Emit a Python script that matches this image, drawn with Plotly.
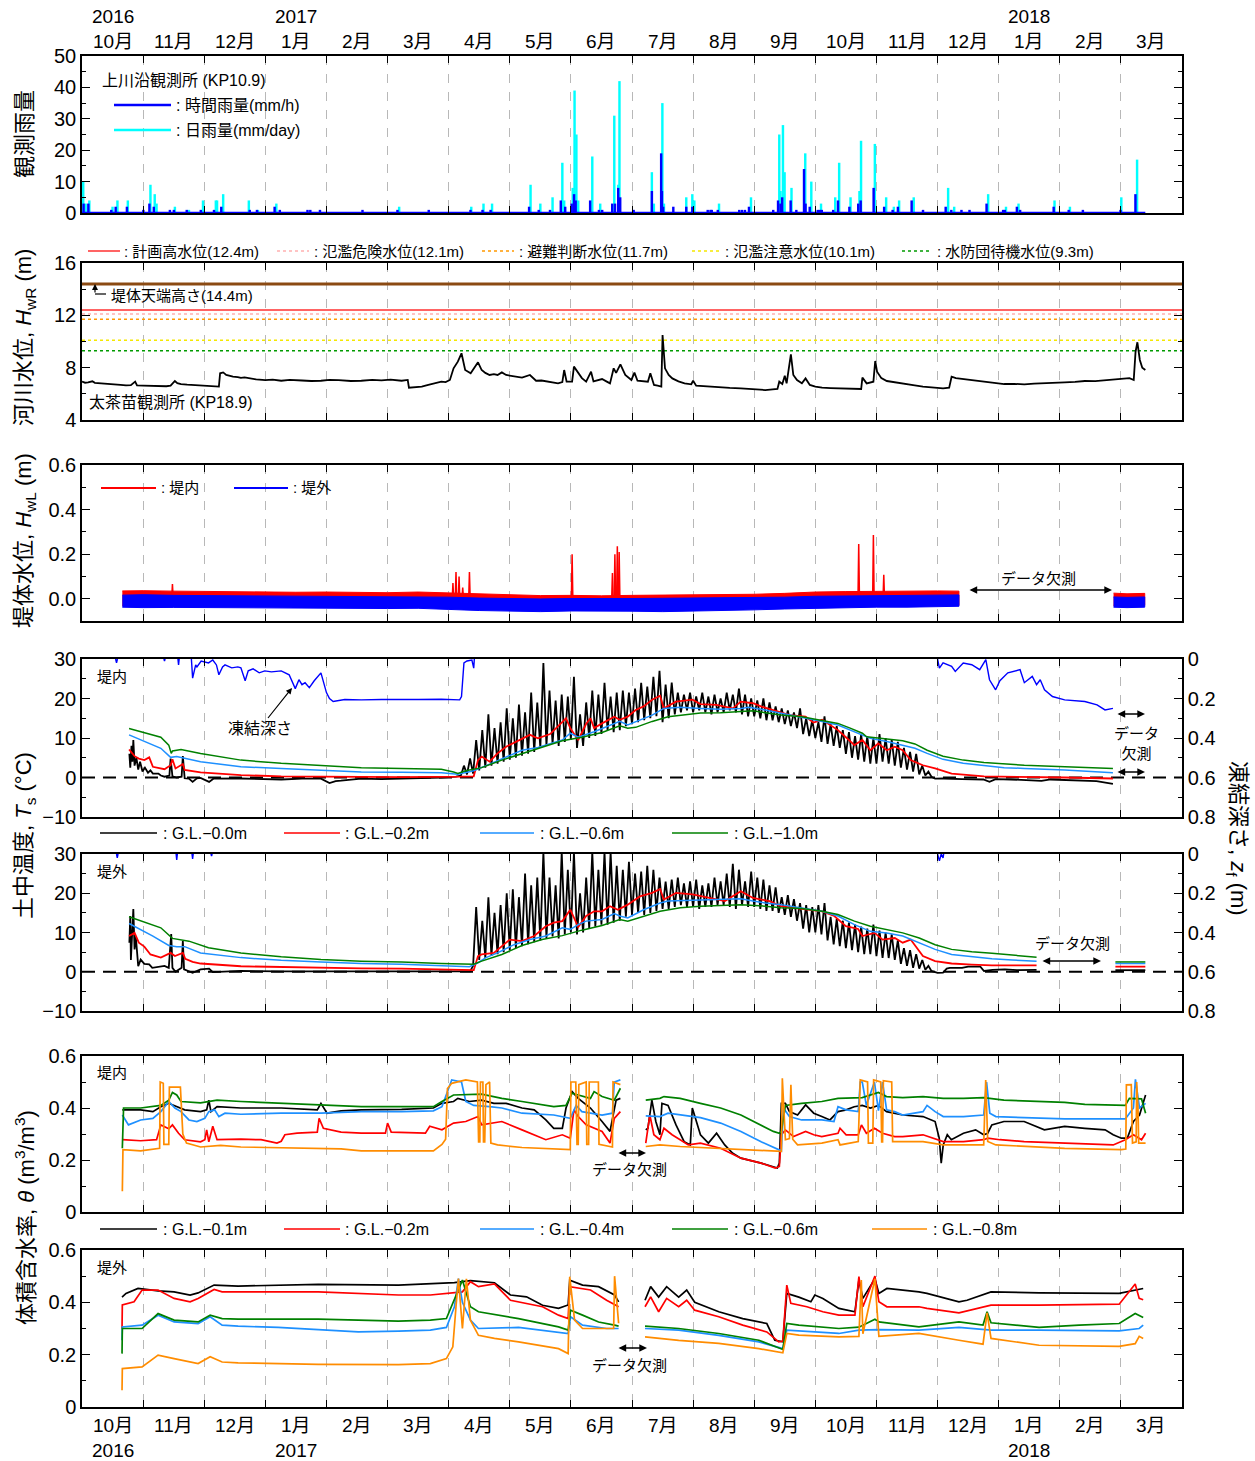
import plotly.graph_objects as go

# ------------------------------------------------------------------
# Time is expressed in months elapsed since 1 Oct 2016
# (each calendar month occupies one unit on the horizontal axis).
# ------------------------------------------------------------------
MONTHS = ["10月", "11月", "12月", "1月", "2月", "3月", "4月", "5月", "6月",
          "7月", "8月", "9月", "10月", "11月", "12月", "1月", "2月", "3月"]
YEARS = [(0, "2016"), (3, "2017"), (15, "2018")]
GAP = (None, None)

# ---------------- rainfall, 上川沿観測所 (KP10.9) -------------------
rain_daily = [(0.02, 10), (0.06, 3), (0.12, 4), (0.50, 2), (0.58, 4), (0.75, 4), (1.12, 9), (1.19, 6),
              (1.22, 3), (1.52, 2), (1.75, 1), (1.98, 4), (2.19, 4), (2.21, 4), (2.31, 6), (2.73, 4),
              (2.88, 1), (3.18, 3), (5.19, 2), (6.37, 2), (6.57, 3), (6.71, 3), (7.34, 9), (7.50, 3),
              (7.70, 5), (7.86, 16), (7.89, 4), (8.03, 8), (8.06, 39), (8.09, 25), (8.12, 4), (8.35, 18),
              (8.48, 3), (8.71, 31), (8.775, 9), (8.795, 42), (9.325, 13), (9.358, 3), (9.497, 35),
              (9.523, 3), (9.888, 5), (9.987, 6), (10.02, 4), (10.424, 3), (10.947, 5), (11.41, 25),
              (11.43, 7), (11.47, 28), (11.497, 13), (11.61, 8), (11.835, 19), (11.934, 10), (12.093, 3),
              (12.325, 5), (12.39, 16), (12.576, 5), (12.722, 7), (12.748, 23), (12.974, 22), (13.159, 5),
              (13.285, 2), (13.371, 4), (13.61, 5), (14.173, 8), (14.272, 2), (14.828, 6), (15.12, 2),
              (15.325, 3), (15.914, 4), (16.166, 2), (17.007, 5), (17.265, 17)]
rain_hourly = [(0.026, 3), (0.104, 3), (0.479, 1), (0.551, 2), (0.735, 2), (1.004, 1), (1.103, 3),
               (1.175, 2), (1.438, 1), (1.503, 1), (1.714, 1), (1.944, 1), (2.16, 1), (2.279, 2),
               (2.745, 1), (2.863, 1), (3.152, 2), (3.237, 1), (3.69, 1), (3.736, 1), (3.894, 1),
               (4.59, 1), (5.162, 1), (5.674, 1), (6.357, 1), (6.554, 1), (6.686, 1), (7.316, 2),
               (7.474, 1), (7.658, 1), (7.835, 4), (7.907, 2), (8.013, 3), (8.052, 6), (8.078, 4),
               (8.315, 4), (8.459, 1), (8.512, 1), (8.676, 3), (8.722, 3), (8.774, 8), (8.807, 5),
               (9.027, 1), (9.325, 7), (9.477, 19), (9.49, 7), (9.51, 2), (9.676, 2), (9.888, 2),
               (9.987, 2), (10.239, 1), (10.285, 1), (10.305, 1), (10.404, 1), (10.755, 1), (10.8, 1),
               (10.848, 1), (10.914, 2), (11.311, 1), (11.39, 4), (11.43, 3), (11.457, 5), (11.596, 4),
               (11.689, 1), (11.815, 14), (11.84, 3), (11.908, 2), (12.04, 1), (12.073, 1), (12.106, 1),
               (12.292, 1), (12.371, 4), (12.557, 2), (12.702, 3), (12.742, 4), (12.954, 8), (13.126, 2),
               (13.265, 1), (13.351, 2), (13.576, 4), (13.762, 1), (14.133, 2), (14.225, 1), (14.391, 1),
               (14.523, 1), (14.802, 3), (15.073, 1), (15.1, 1), (15.298, 2), (15.351, 1), (15.9, 2),
               (16.146, 1), (16.378, 1), (16.994, 1), (17.238, 6)]
rain_record = [(0.0, 0), (17.40, 0)]

# ---------------- river stage, 太茶苗観測所 (KP18.9) ----------------
river_level = [(0.00, 6.93), (0.05, 6.85), (0.10, 6.88), (0.17, 6.96), (0.21, 6.84), (0.25, 6.82),
               (0.33, 6.78), (0.40, 6.75), (0.50, 6.70), (0.63, 6.68), (0.72, 6.64), (0.80, 6.66),
               (0.87, 6.93), (0.90, 6.64), (1.00, 6.62), (1.10, 6.60), (1.20, 6.58), (1.29, 6.55),
               (1.38, 6.58), (1.45, 6.62), (1.52, 6.98), (1.56, 6.82), (1.62, 6.75), (1.72, 6.70),
               (1.80, 6.68), (1.88, 6.65), (1.94, 6.62), (2.02, 6.58), (2.10, 6.60), (2.18, 6.56),
               (2.24, 6.55), (2.26, 7.57), (2.31, 7.64), (2.36, 7.45), (2.40, 7.40), (2.47, 7.31),
               (2.55, 7.28), (2.60, 7.22), (2.66, 7.25), (2.73, 7.18), (2.85, 7.10), (3.00, 7.05),
               (3.12, 7.08), (3.26, 7.00), (3.40, 7.06), (3.60, 7.02), (3.75, 6.98), (3.91, 7.00),
               (4.05, 7.06), (4.20, 7.05), (4.40, 6.98), (4.57, 7.00), (4.75, 7.06), (4.90, 7.03),
               (5.05, 7.08), (5.23, 7.00), (5.33, 7.06), (5.35, 6.47), (5.45, 6.50), (5.56, 6.55),
               (5.65, 6.66), (5.75, 6.80), (5.88, 6.93), (5.95, 6.90), (6.02, 7.06), (6.08, 7.95),
               (6.15, 8.46), (6.21, 9.10), (6.27, 7.82), (6.36, 7.57), (6.41, 7.95), (6.48, 8.41),
               (6.54, 7.82), (6.60, 7.60), (6.67, 7.44), (6.74, 7.50), (6.80, 7.44), (6.87, 7.64),
               (6.94, 7.44), (7.05, 7.36), (7.20, 7.24), (7.33, 7.44), (7.43, 7.00), (7.52, 7.02),
               (7.60, 6.95), (7.70, 6.86), (7.79, 6.80), (7.86, 6.90), (7.89, 7.82), (7.93, 6.93),
               (8.02, 6.93), (8.05, 8.08), (8.12, 7.57), (8.18, 7.20), (8.25, 6.93), (8.33, 7.69),
               (8.37, 6.95), (8.44, 7.05), (8.51, 7.13), (8.58, 6.95), (8.64, 6.80), (8.70, 7.95),
               (8.74, 7.60), (8.81, 8.25), (8.89, 7.44), (8.99, 7.06), (9.04, 7.62), (9.09, 7.00),
               (9.18, 6.98), (9.26, 6.93), (9.30, 7.57), (9.36, 6.68), (9.42, 6.62), (9.48, 6.55),
               (9.50, 10.5), (9.54, 7.95), (9.60, 7.45), (9.66, 7.18), (9.76, 6.95), (9.86, 6.80),
               (9.97, 6.73), (10.00, 7.00), (10.05, 6.62), (10.20, 6.56), (10.35, 6.50), (10.45, 6.47),
               (10.60, 6.45), (10.78, 6.42), (10.95, 6.38), (11.18, 6.29), (11.30, 6.34), (11.38, 6.37),
               (11.41, 6.93), (11.46, 6.75), (11.50, 7.39), (11.53, 6.80), (11.60, 9.02), (11.64, 7.44),
               (11.70, 7.05), (11.78, 6.80), (11.84, 7.18), (11.91, 6.68), (12.00, 6.55), (12.11, 6.47),
               (12.25, 6.44), (12.44, 6.42), (12.60, 6.38), (12.75, 6.37), (12.77, 7.24), (12.84, 6.80),
               (12.95, 6.93), (12.98, 8.51), (13.01, 7.69), (13.08, 7.20), (13.17, 6.98), (13.30, 6.90),
               (13.43, 6.80), (13.60, 6.66), (13.76, 6.55), (13.92, 6.48), (14.09, 6.42), (14.19, 6.47),
               (14.23, 7.31), (14.30, 7.20), (14.42, 7.13), (14.58, 7.02), (14.76, 6.93), (14.92, 6.84),
               (15.09, 6.75), (15.25, 6.76), (15.42, 6.73), (15.58, 6.78), (15.75, 6.80), (15.92, 6.82),
               (16.08, 6.88), (16.25, 6.92), (16.41, 6.98), (16.58, 6.97), (16.74, 7.03), (16.90, 7.08),
               (17.07, 7.13), (17.14, 7.20), (17.21, 7.06), (17.24, 9.22), (17.27, 9.94), (17.31, 8.59),
               (17.35, 8.00), (17.40, 7.82)]
crest_height = 14.4
stage_refs = [("計画高水位", 12.4), ("氾濫危険水位", 12.1), ("避難判断水位", 11.7),
              ("氾濫注意水位", 10.1), ("水防団待機水位", 9.3)]

# ---------------- embankment water level (envelopes of the record) --------
wl_t = [0.66, 1.0, 1.5, 2.0, 2.5, 3.0, 3.5, 4.0, 4.5, 5.0, 5.5, 6.0, 6.5, 7.0, 7.5, 8.0, 8.5,
        9.0, 9.5, 10.0, 10.5, 11.0, 11.5, 12.0, 12.5, 13.0, 13.5, 14.0, 14.35]
wl_in_hi = [0.035, 0.036, 0.034, 0.032, 0.030, 0.031, 0.029, 0.030, 0.028, 0.027, 0.030, 0.026, 0.020,
            0.016, 0.014, 0.015, 0.013, 0.015, 0.016, 0.018, 0.016, 0.020, 0.024, 0.030, 0.032, 0.034,
            0.033, 0.035, 0.034]
wl_in_lo = [-0.030, -0.032, -0.030, -0.031, -0.033, -0.032, -0.034, -0.033, -0.035, -0.036, -0.034,
            -0.040, -0.045, -0.048, -0.050, -0.048, -0.047, -0.049, -0.050, -0.048, -0.046, -0.044,
            -0.040, -0.036, -0.034, -0.033, -0.032, -0.031, -0.030]
wl_out_hi = [0.016, 0.018, 0.015, 0.014, 0.013, 0.014, 0.012, 0.013, 0.011, 0.010, 0.009, 0.007, 0.003,
             0.001, -0.001, 0.001, 0.000, 0.001, 0.002, 0.003, 0.004, 0.005, 0.007, 0.011, 0.013, 0.015,
             0.016, 0.017, 0.017]
wl_out_lo = [-0.038, -0.040, -0.039, -0.038, -0.040, -0.041, -0.040, -0.042, -0.043, -0.044, -0.043,
             -0.048, -0.053, -0.056, -0.058, -0.055, -0.054, -0.056, -0.058, -0.055, -0.053, -0.050,
             -0.046, -0.042, -0.040, -0.038, -0.038, -0.036, -0.034]
wl2_t = [16.88, 17.1, 17.39]
wl2_in_hi = [0.025, 0.022, 0.024]
wl2_in_lo = [-0.030, -0.032, -0.030]
wl2_out_hi = [0.008, 0.006, 0.008]
wl2_out_lo = [-0.038, -0.040, -0.038]
wl_in_peaks = [(1.48, 0.066), (6.07, 0.07), (6.12, 0.12), (6.17, 0.10), (6.23, 0.05), (6.34, 0.12),
               (8.02, 0.20), (8.68, 0.115), (8.72, 0.20), (8.76, 0.235), (8.79, 0.21), (12.71, 0.246),
               (12.95, 0.286), (13.12, 0.107)]

# ---------------- soil temperature, 堤内 ----------------
ts_in_000 = [(0.775, 6.0), (0.79, 2.5), (0.81, 8.0), (0.825, 4.0), (0.84, 9.5), (0.86, 3.0), (0.89, 5.0),
             (0.92, 2.0), (0.95, 4.0), (0.99, 1.5), (1.03, 2.5), (1.08, 1.2), (1.12, 1.8), (1.16, 1.0),
             (1.25, 1.0), (1.29, 0.5), (1.35, 0.2), (1.43, 0.5), (1.45, 4.8), (1.48, 0.3), (1.55, 0.0),
             (1.63, 0.2), (1.65, 5.4), (1.68, -0.2), (1.75, -0.3), (1.81, -1.1), (1.88, -0.2), (1.94, -0.1),
             (2.08, -1.1), (2.15, -0.3), (2.60, -0.25), (3.00, -0.4), (3.26, -0.5), (3.60, -0.3),
             (3.91, -0.3), (4.05, -1.4), (4.15, -0.9), (4.24, -0.8), (4.57, -0.3), (4.90, -0.4),
             (5.23, -0.3), (5.60, -0.2), (5.88, 0.0), (6.12, 0.2),
             (6.20, 0.5), (6.25, 3.0), (6.30, 0.8), (6.35, 4.8), (6.40, 1.0), (6.45, 9.5), (6.50, 1.8),
             (6.55, 12.0), (6.60, 2.5), (6.65, 16.0), (6.70, 3.0), (6.75, 12.5), (6.80, 3.5), (6.85, 14.0),
             (6.90, 4.0), (6.95, 17.5), (7.00, 4.5), (7.05, 15.0), (7.10, 5.0), (7.15, 18.5), (7.20, 5.5),
             (7.25, 16.5), (7.30, 6.0), (7.35, 21.5), (7.40, 6.5), (7.45, 19.0), (7.50, 7.5), (7.55, 29.0),
             (7.60, 8.0), (7.65, 22.0), (7.70, 8.5), (7.75, 19.5), (7.80, 8.0), (7.85, 21.0), (7.90, 9.0),
             (7.95, 20.5), (8.00, 9.5), (8.05, 25.5), (8.10, 7.5), (8.15, 16.0), (8.20, 8.0), (8.25, 19.0),
             (8.30, 10.0), (8.35, 22.0), (8.40, 10.5), (8.45, 21.0), (8.50, 11.0), (8.55, 24.0),
             (8.60, 12.0), (8.65, 20.5), (8.70, 11.5), (8.75, 21.5), (8.80, 12.0), (8.85, 22.0),
             (8.90, 13.0), (8.95, 21.5), (9.00, 13.5), (9.05, 22.5), (9.10, 14.0), (9.15, 24.0),
             (9.20, 14.5), (9.25, 23.0), (9.30, 15.0), (9.35, 25.5), (9.40, 15.5), (9.45, 27.0),
             (9.50, 14.0), (9.55, 23.5), (9.60, 15.0), (9.65, 24.0), (9.70, 16.0), (9.75, 21.5),
             (9.80, 16.5), (9.85, 21.0), (9.90, 17.0), (9.95, 21.5), (10.00, 16.5), (10.05, 20.5),
             (10.10, 17.0), (10.15, 21.5), (10.20, 16.5), (10.25, 20.5), (10.30, 16.0), (10.35, 21.0),
             (10.40, 16.5), (10.45, 20.0), (10.50, 16.5), (10.55, 21.5), (10.60, 17.0), (10.65, 21.0),
             (10.70, 16.5), (10.75, 22.5), (10.80, 16.0), (10.85, 21.0), (10.90, 15.5), (10.95, 20.0),
             (11.00, 15.5), (11.05, 19.5), (11.10, 15.0), (11.15, 20.0), (11.20, 14.5), (11.25, 19.0),
             (11.30, 14.5), (11.35, 18.0), (11.40, 14.0), (11.45, 17.5), (11.50, 13.5), (11.55, 17.0),
             (11.60, 13.0), (11.65, 16.5), (11.70, 12.5), (11.75, 17.5), (11.80, 11.0), (11.85, 15.0),
             (11.90, 10.5), (11.95, 14.5), (12.00, 10.0), (12.05, 14.0), (12.10, 9.0), (12.15, 15.5),
             (12.20, 8.5), (12.25, 13.5), (12.30, 8.0), (12.35, 13.0), (12.40, 7.5), (12.45, 12.0),
             (12.50, 6.0), (12.55, 11.5), (12.60, 5.0), (12.65, 10.5), (12.70, 4.5), (12.75, 11.0),
             (12.80, 4.0), (12.85, 10.5), (12.90, 3.5), (12.95, 10.0), (13.00, 3.5), (13.05, 11.0),
             (13.10, 4.0), (13.15, 10.0), (13.20, 3.5), (13.25, 9.5), (13.30, 3.0), (13.35, 9.0),
             (13.40, 2.5), (13.45, 7.5), (13.50, 2.0), (13.55, 6.5), (13.60, 1.5), (13.65, 6.0),
             (13.70, 0.8), (13.75, 3.0), (13.80, 0.5), (13.85, 1.5), (13.90, 0.2),
             (13.96, -0.3), (14.10, -0.25), (14.40, -0.4), (14.75, -0.5), (14.85, -1.1), (14.95, -0.4),
             (15.20, -0.5), (15.50, -0.6), (15.70, -0.85), (15.85, -0.5), (16.10, -0.6), (16.40, -0.7),
             (16.60, -0.9), (16.87, -1.6)]
ts_in_020 = [(0.77, 7.1), (0.86, 5.4), (0.93, 4.8), (1.02, 4.4), (1.10, 5.1), (1.16, 2.7), (1.35, 2.1),
             (1.45, 3.1), (1.48, 4.6), (1.53, 2.3), (1.65, 3.4), (1.68, 1.9), (1.94, 1.3), (2.60, 0.6),
             (3.26, 0.3), (3.91, 0.2), (4.57, 0.1), (5.23, 0.1), (6.21, 0.2), (6.41, 0.3), (6.48, 4.4),
             (6.54, 5.3), (6.67, 4.0), (6.80, 6.1), (6.94, 7.8), (7.20, 9.9), (7.33, 10.8), (7.46, 9.9),
             (7.66, 11.0), (7.92, 15.0), (7.99, 12.5), (8.12, 9.5), (8.25, 13.6), (8.32, 15.0),
             (8.38, 12.5), (8.51, 13.7), (8.71, 15.4), (8.80, 14.6), (8.93, 15.4), (9.06, 17.1),
             (9.19, 18.0), (9.33, 19.7), (9.46, 20.7), (9.52, 17.5), (9.72, 19.2), (9.99, 19.7),
             (10.12, 18.6), (10.38, 18.4), (10.65, 17.5), (10.78, 19.2), (10.98, 18.8), (11.11, 18.0),
             (11.31, 17.1), (11.58, 15.8), (11.84, 15.4), (11.97, 13.9), (12.11, 14.6), (12.24, 13.3),
             (12.37, 12.0), (12.50, 10.2), (12.64, 8.2), (12.77, 9.5), (12.90, 6.9), (13.03, 8.6),
             (13.17, 6.9), (13.30, 7.8), (13.43, 6.9), (13.56, 4.4), (13.76, 3.1), (13.96, 2.3),
             (14.23, 1.0), (14.76, 0.3), (15.42, 0.2), (16.08, 0.0), (16.87, -0.25)]
ts_in_060 = [(0.77, 10.8), (1.29, 7.4), (1.45, 5.1), (1.55, 5.3), (1.94, 4.0), (2.60, 2.7), (3.26, 2.3),
             (3.91, 1.9), (4.57, 1.4), (5.23, 1.3), (5.88, 1.2), (6.15, 0.8), (6.41, 1.7), (6.67, 3.4),
             (6.94, 5.1), (7.20, 6.9), (7.46, 7.6), (7.86, 9.5), (7.99, 11.2), (8.12, 10.2), (8.38, 11.6),
             (8.64, 13.3), (8.80, 14.2), (8.93, 13.3), (9.13, 14.6), (9.33, 15.8), (9.52, 17.5),
             (9.79, 17.8), (10.12, 17.5), (10.45, 17.3), (10.78, 17.5), (10.91, 17.8), (11.18, 17.1),
             (11.44, 16.3), (11.78, 15.4), (12.11, 14.2), (12.37, 13.3), (12.64, 11.6), (12.90, 9.9),
             (13.17, 9.1), (13.43, 8.2), (13.63, 7.4), (13.83, 6.1), (14.09, 4.6), (14.42, 3.6),
             (14.76, 3.0), (15.09, 2.5), (15.42, 2.3), (16.08, 1.9), (16.87, 1.2)]
ts_in_100 = [(0.77, 12.4), (1.29, 10.2), (1.42, 8.2), (1.46, 6.1), (1.48, 6.7), (1.62, 7.1), (1.94, 6.1),
             (2.60, 4.4), (3.26, 3.6), (3.91, 3.0), (4.57, 2.5), (5.23, 2.3), (5.88, 2.1), (6.08, 1.4),
             (6.15, 1.0), (6.28, 1.7), (6.54, 2.5), (6.87, 4.4), (7.20, 6.1), (7.53, 7.8), (7.86, 9.3),
             (8.18, 10.2), (8.51, 11.4), (8.80, 13.1), (8.93, 12.5), (9.06, 12.7), (9.33, 14.2),
             (9.59, 15.4), (9.79, 15.8), (10.12, 16.3), (10.45, 16.4), (10.78, 16.7), (10.98, 16.9),
             (11.18, 16.4), (11.44, 15.8), (11.78, 15.4), (12.11, 14.4), (12.37, 13.7), (12.57, 12.5),
             (12.77, 11.2), (12.84, 10.3), (13.10, 9.9), (13.43, 9.3), (13.63, 8.5), (13.83, 6.9),
             (14.09, 5.4), (14.42, 4.4), (14.76, 3.8), (15.09, 3.4), (15.42, 3.1), (15.75, 2.9),
             (16.08, 2.7), (16.41, 2.5), (16.87, 2.3)]
frost_in = [(0.55, 0.0), (0.565, 0.02), (0.58, 0.0), GAP, (1.34, 0.0), (1.35, 0.01), (1.36, 0.0), GAP,
            (1.57, 0.0), (1.58, 0.03), (1.59, 0.0), GAP,
            (1.79, 0.0), (1.81, 0.097), (1.86, 0.03), (1.88, 0.04), (1.95, 0.01), (2.07, 0.02),
            (2.14, 0.005), (2.20, 0.03), (2.24, 0.08), (2.30, 0.04), (2.34, 0.03), (2.45, 0.045),
            (2.55, 0.04), (2.60, 0.045), (2.67, 0.11), (2.72, 0.06), (2.80, 0.05), (2.90, 0.07),
            (2.99, 0.06), (3.10, 0.065), (3.26, 0.06), (3.39, 0.08), (3.49, 0.15), (3.55, 0.105),
            (3.60, 0.13), (3.65, 0.12), (3.72, 0.145), (3.80, 0.11), (3.91, 0.07), (3.95, 0.12),
            (4.00, 0.17), (4.05, 0.20), (4.11, 0.215), (4.30, 0.205), (4.57, 0.207), (4.90, 0.205),
            (5.23, 0.207), (5.50, 0.205), (5.88, 0.204), (6.18, 0.207), (6.21, 0.19), (6.23, 0.12),
            (6.25, 0.02), (6.30, 0.01), (6.38, 0.005), (6.41, 0.046), (6.42, 0.0), GAP,
            (14.00, 0.0), (14.03, 0.046), (14.09, 0.02), (14.23, 0.037), (14.29, 0.063), (14.42, 0.02),
            (14.56, 0.029), (14.69, 0.054), (14.79, 0.003), (14.85, 0.105), (14.95, 0.156), (15.02, 0.11),
            (15.15, 0.07), (15.35, 0.054), (15.42, 0.12), (15.55, 0.088), (15.62, 0.13), (15.68, 0.105),
            (15.75, 0.156), (15.88, 0.19), (16.08, 0.207), (16.41, 0.215), (16.61, 0.232), (16.74, 0.258),
            (16.87, 0.25)]

# ---------------- soil temperature, 堤外 ----------------
ts_out_000 = [(0.775, 7.4), (0.79, 14.2), (0.80, 3.0), (0.82, 12.0), (0.84, 16.0), (0.86, 5.7), (0.88, 9.0),
              (0.92, 1.4), (0.96, 3.1), (1.02, 2.0), (1.10, 1.9), (1.15, 1.0), (1.29, 1.4), (1.35, 1.5),
              (1.42, 1.0), (1.44, 6.9), (1.46, 9.6), (1.48, 1.0), (1.53, 0.0), (1.63, 1.0), (1.65, 7.8),
              (1.67, 0.6), (1.81, -0.25), (1.94, 0.6), (2.08, 0.8), (2.14, -0.1), (2.60, 0.2), (3.26, 0.1),
              (4.57, 0.1), (5.88, 0.1), (6.35, 0.1),
              (6.40, 1.5), (6.45, 16.5), (6.50, 3.0), (6.55, 13.0), (6.60, 3.5), (6.65, 19.0), (6.70, 4.0),
              (6.75, 15.0), (6.80, 4.5), (6.85, 17.0), (6.90, 5.0), (6.95, 20.0), (7.00, 5.5), (7.05, 21.0),
              (7.10, 6.0), (7.15, 19.0), (7.20, 6.5), (7.25, 25.0), (7.30, 7.0), (7.35, 22.0), (7.40, 7.5),
              (7.45, 24.0), (7.50, 8.0), (7.55, 30.5), (7.60, 8.5), (7.65, 24.0), (7.70, 9.0), (7.75, 22.0),
              (7.80, 8.5), (7.85, 30.5), (7.90, 9.5), (7.95, 26.0), (8.00, 10.0), (8.05, 30.5), (8.10, 9.5),
              (8.15, 20.0), (8.20, 10.0), (8.25, 24.0), (8.30, 11.0), (8.35, 30.5), (8.40, 11.5),
              (8.45, 26.0), (8.50, 12.0), (8.55, 30.5), (8.60, 12.0), (8.65, 30.5), (8.70, 12.5),
              (8.75, 27.0), (8.80, 13.0), (8.85, 26.0), (8.90, 14.0), (8.95, 28.0), (9.00, 14.5),
              (9.05, 25.0), (9.10, 15.0), (9.15, 25.5), (9.20, 14.5), (9.25, 27.0), (9.30, 15.0),
              (9.35, 26.0), (9.40, 15.5), (9.45, 24.0), (9.50, 16.0), (9.55, 23.0), (9.60, 16.0),
              (9.65, 23.5), (9.70, 16.5), (9.75, 24.0), (9.80, 17.0), (9.85, 22.5), (9.90, 16.5),
              (9.95, 23.0), (10.00, 16.5), (10.05, 23.5), (10.10, 16.0), (10.15, 22.0), (10.20, 16.5),
              (10.25, 22.5), (10.30, 16.5), (10.35, 24.0), (10.40, 17.0), (10.45, 23.0), (10.50, 17.0),
              (10.55, 25.0), (10.60, 16.5), (10.65, 27.5), (10.70, 16.0), (10.75, 26.0), (10.80, 17.0),
              (10.85, 23.0), (10.90, 16.5), (10.95, 25.5), (11.00, 16.5), (11.05, 24.0), (11.10, 16.0),
              (11.15, 23.5), (11.20, 15.5), (11.25, 22.0), (11.30, 15.5), (11.35, 21.5), (11.40, 15.0),
              (11.45, 19.0), (11.50, 14.5), (11.55, 19.5), (11.60, 14.0), (11.65, 18.5), (11.70, 13.0),
              (11.75, 17.5), (11.80, 11.0), (11.85, 17.0), (11.90, 10.0), (11.95, 16.5), (12.00, 10.0),
              (12.05, 17.0), (12.10, 9.5), (12.15, 17.5), (12.20, 8.0), (12.25, 14.0), (12.30, 7.0),
              (12.35, 13.5), (12.40, 6.5), (12.45, 13.0), (12.50, 6.0), (12.55, 12.5), (12.60, 5.5),
              (12.65, 12.0), (12.70, 5.0), (12.75, 11.5), (12.80, 4.5), (12.85, 11.0), (12.90, 4.5),
              (12.95, 12.0), (13.00, 4.0), (13.05, 10.5), (13.10, 3.5), (13.15, 10.0), (13.20, 3.5),
              (13.25, 9.5), (13.30, 3.0), (13.35, 8.0), (13.40, 2.0), (13.45, 6.0), (13.50, 1.5),
              (13.55, 5.5), (13.60, 1.0), (13.65, 4.5), (13.70, 0.8), (13.75, 3.0), (13.80, 0.5),
              (13.85, 1.5), (13.90, 0.2),
              (14.00, -0.3), (14.09, -0.2), (14.15, 0.8), (14.20, 1.0), (14.40, 1.0), (14.50, 1.3),
              (14.70, 1.3), (14.76, 0.2), (14.90, 0.5), (15.10, 0.6), (15.30, 0.4), (15.62, 0.5), GAP,
              (16.91, 0.4), (17.40, 0.4)]
ts_out_020 = [(0.77, 9.1), (0.86, 9.9), (0.93, 7.4), (1.02, 6.4), (1.12, 4.4), (1.29, 3.6), (1.45, 4.8),
              (1.52, 4.0), (1.65, 4.8), (1.69, 3.3), (1.81, 2.5), (1.94, 2.1), (2.60, 1.4), (3.26, 1.2),
              (3.91, 1.0), (4.57, 0.85), (5.23, 0.8), (5.88, 0.6), (6.41, 0.4), (6.48, 4.0), (6.54, 4.4),
              (6.74, 4.8), (6.87, 6.5), (7.00, 8.2), (7.20, 7.8), (7.40, 9.1), (7.59, 11.6), (7.72, 12.5),
              (7.86, 12.9), (7.99, 15.8), (8.12, 11.4), (8.25, 14.2), (8.38, 15.4), (8.51, 15.4),
              (8.64, 16.7), (8.77, 15.8), (8.93, 17.1), (9.13, 19.2), (9.33, 20.1), (9.46, 21.1),
              (9.52, 18.4), (9.72, 20.1), (9.99, 19.7), (10.25, 18.8), (10.52, 18.0), (10.78, 20.5),
              (10.98, 18.8), (11.25, 18.0), (11.44, 16.7), (11.64, 16.3), (11.91, 15.8), (12.11, 15.4),
              (12.31, 14.2), (12.50, 11.6), (12.70, 10.9), (12.77, 9.1), (12.97, 9.9), (13.10, 8.2),
              (13.30, 8.6), (13.43, 7.4), (13.56, 8.2), (13.76, 4.0), (13.96, 2.7), (14.23, 2.1),
              (14.56, 1.8), (14.89, 1.6), (15.62, 1.6), GAP, (16.91, 1.3), (17.40, 1.3)]
ts_out_060 = [(0.77, 12.3), (1.16, 9.1), (1.42, 6.7), (1.55, 6.4), (1.68, 6.4), (1.94, 4.8), (2.60, 3.6),
              (3.26, 2.9), (3.91, 2.5), (4.57, 2.1), (5.23, 1.9), (5.88, 1.6), (6.34, 1.3), (6.48, 2.3),
              (6.61, 3.6), (6.80, 4.8), (7.07, 6.9), (7.33, 8.2), (7.59, 9.1), (7.86, 11.2), (7.99, 10.8),
              (8.12, 12.0), (8.25, 12.9), (8.51, 13.3), (8.71, 14.8), (8.80, 14.2), (8.93, 13.7),
              (9.19, 15.8), (9.46, 17.5), (9.59, 18.0), (10.12, 18.2), (10.78, 18.6), (10.98, 18.0),
              (11.18, 17.5), (11.44, 17.1), (11.78, 16.3), (12.11, 15.4), (12.37, 14.2), (12.64, 12.0),
              (12.90, 10.3), (13.17, 9.9), (13.43, 9.1), (13.70, 7.4), (13.96, 5.7), (14.23, 4.4),
              (14.56, 3.8), (14.89, 3.3), (15.22, 3.0), (15.62, 2.7), GAP, (16.91, 2.1), (17.40, 2.1)]
ts_out_100 = [(0.77, 14.0), (1.29, 11.2), (1.48, 8.5), (1.75, 7.8), (2.07, 6.1), (2.60, 4.8), (3.26, 3.8),
              (3.91, 3.1), (4.57, 2.7), (5.23, 2.5), (5.88, 2.1), (6.41, 1.9), (6.54, 2.7), (6.87, 4.4),
              (7.20, 6.7), (7.53, 8.2), (7.86, 9.2), (8.18, 10.6), (8.51, 11.8), (8.80, 13.3),
              (8.93, 12.9), (9.19, 14.2), (9.46, 15.4), (9.79, 16.3), (10.12, 16.7), (10.45, 16.9),
              (10.78, 17.1), (11.18, 16.7), (11.44, 16.3), (11.78, 16.1), (12.11, 15.4), (12.37, 14.6),
              (12.64, 12.9), (12.90, 11.6), (13.17, 10.8), (13.43, 9.9), (13.70, 8.6), (13.96, 6.9),
              (14.23, 5.7), (14.56, 5.1), (14.89, 4.7), (15.22, 4.2), (15.62, 3.7), GAP,
              (16.91, 2.5), (17.40, 2.5)]
frost_out = [(0.565, 0.0), (0.577, 0.02), (0.59, 0.0), GAP, (1.54, 0.0), (1.55, 0.03), (1.56, 0.0), GAP,
             (1.80, 0.0), (1.81, 0.025), (1.82, 0.0), GAP, (2.11, 0.0), (2.12, 0.01), (2.13, 0.0), GAP,
             (14.00, 0.0), (14.03, 0.035), (14.06, 0.0), (14.09, 0.02), (14.10, 0.0)]

# ---------------- volumetric water content, 堤内 ----------------
wc_in_01 = [(0.66, 0.393), (0.96, 0.393), (1.16, 0.386), (1.29, 0.405), (1.42, 0.418), (1.55, 0.405),
            (1.68, 0.393), (1.94, 0.386), (2.04, 0.393), (2.075, 0.43), (2.11, 0.386), (2.21, 0.405),
            (2.60, 0.40), (3.26, 0.40), (3.85, 0.393), (3.91, 0.418), (4.01, 0.38), (4.24, 0.389),
            (4.57, 0.393), (5.23, 0.395), (5.75, 0.40), (5.89, 0.418), (6.08, 0.425), (6.15, 0.437),
            (6.34, 0.425), (6.54, 0.43), (6.74, 0.418), (6.94, 0.418), (7.20, 0.40), (7.40, 0.393),
            (7.59, 0.354), (7.72, 0.322), (7.86, 0.322), (7.92, 0.40), (8.02, 0.463), (8.12, 0.437),
            (8.32, 0.40), (8.51, 0.348), (8.64, 0.31), (8.74, 0.43), (8.81, 0.437), GAP,
            (9.225, 0.316), (9.26, 0.322), (9.325, 0.43), (9.39, 0.348), (9.457, 0.297), (9.49, 0.418),
            (9.59, 0.41), (9.72, 0.335), (9.855, 0.27), (9.954, 0.258), (9.987, 0.40), (10.12, 0.297),
            (10.25, 0.265), (10.384, 0.303), (10.517, 0.258), (10.649, 0.226), (10.782, 0.207),
            (11.113, 0.188), (11.378, 0.169), (11.411, 0.188), (11.444, 0.418), (11.51, 0.418),
            (11.576, 0.386), (11.709, 0.373), (11.841, 0.412), (11.974, 0.38), (12.106, 0.367),
            (12.239, 0.354), (12.371, 0.386), (12.504, 0.393), (12.636, 0.405), (12.768, 0.41),
            (12.901, 0.40), (13.033, 0.41), (13.166, 0.386), (13.43, 0.373), (13.762, 0.367),
            (13.96, 0.348), (14.027, 0.284), (14.06, 0.188), (14.093, 0.258), (14.159, 0.297),
            (14.225, 0.278), (14.424, 0.303), (14.623, 0.316), (14.755, 0.297), (14.821, 0.303),
            (14.888, 0.335), (15.086, 0.348), (15.417, 0.348), (15.748, 0.316), (16.08, 0.329),
            (16.41, 0.322), (16.742, 0.316), (16.874, 0.297), (17.007, 0.284), (17.106, 0.284),
            (17.205, 0.348), (17.305, 0.373), (17.404, 0.45)]
wc_in_02 = [(0.66, 0.278), (0.96, 0.274), (1.22, 0.278), (1.29, 0.335), (1.42, 0.32), (1.48, 0.335),
            (1.58, 0.303), (1.68, 0.278), (1.94, 0.27), (2.01, 0.278), (2.04, 0.316), (2.075, 0.27),
            (2.14, 0.33), (2.21, 0.278), (2.60, 0.28), (2.93, 0.278), (3.19, 0.265), (3.26, 0.272),
            (3.32, 0.297), (3.52, 0.303), (3.85, 0.307), (3.88, 0.36), (3.95, 0.322), (4.24, 0.307),
            (4.57, 0.303), (4.965, 0.303), (5.00, 0.342), (5.06, 0.307), (5.62, 0.303), (5.69, 0.33),
            (5.89, 0.316), (6.08, 0.342), (6.28, 0.348), (6.48, 0.367), (6.54, 0.335), (6.87, 0.348),
            (7.20, 0.316), (7.59, 0.278), (7.86, 0.297), (7.99, 0.284), (8.05, 0.393), (8.12, 0.367),
            (8.25, 0.335), (8.38, 0.322), (8.51, 0.31), (8.64, 0.265), (8.71, 0.36), (8.81, 0.386), GAP,
            (9.225, 0.265), (9.292, 0.373), (9.358, 0.297), (9.457, 0.278), (9.523, 0.322),
            (9.656, 0.297), (9.788, 0.278), (9.921, 0.258), (10.12, 0.265), (10.45, 0.245),
            (10.782, 0.207), (11.113, 0.188), (11.345, 0.169), (11.411, 0.175), (11.444, 0.297),
            (11.51, 0.316), (11.643, 0.29), (11.841, 0.31), (11.974, 0.297), (12.106, 0.29),
            (12.371, 0.303), (12.404, 0.322), (12.504, 0.297), (12.702, 0.297), (12.755, 0.335),
            (12.835, 0.303), (12.967, 0.322), (13.10, 0.303), (13.298, 0.29), (13.43, 0.29),
            (13.762, 0.297), (14.093, 0.271), (14.424, 0.271), (14.755, 0.278), (14.821, 0.284),
            (15.02, 0.278), (15.417, 0.271), (16.08, 0.265), (16.874, 0.258), (17.073, 0.278),
            (17.205, 0.297), (17.338, 0.278), (17.404, 0.303)]
wc_in_04 = [(0.66, 0.373), (0.76, 0.335), (0.96, 0.354), (1.16, 0.36), (1.29, 0.386), (1.42, 0.425),
            (1.52, 0.40), (1.62, 0.386), (1.75, 0.354), (1.88, 0.348), (2.01, 0.36), (2.075, 0.386),
            (2.17, 0.393), (2.24, 0.367), (2.34, 0.38), (2.60, 0.376), (3.26, 0.38), (3.91, 0.38),
            (4.57, 0.386), (5.23, 0.386), (5.75, 0.389), (5.89, 0.405), (6.05, 0.508), (6.21, 0.50),
            (6.28, 0.425), (6.41, 0.41), (6.67, 0.405), (6.87, 0.40), (7.20, 0.38), (7.72, 0.373),
            (7.99, 0.36), (8.085, 0.41), (8.18, 0.386), (8.51, 0.373), (8.68, 0.38), (8.71, 0.50),
            (8.81, 0.508), GAP,
            (9.225, 0.37), (9.457, 0.367), (9.59, 0.38), (9.788, 0.373), (10.12, 0.363), (10.45, 0.342),
            (10.782, 0.31), (11.113, 0.27), (11.378, 0.24), (11.444, 0.235), (11.477, 0.40),
            (11.576, 0.367), (11.775, 0.354), (12.106, 0.354), (12.305, 0.348), (12.371, 0.405),
            (12.504, 0.393), (12.702, 0.386), (12.735, 0.50), (12.768, 0.50), (12.835, 0.41),
            (12.967, 0.50), (13.033, 0.39), (13.10, 0.50), (13.166, 0.393), (13.298, 0.386),
            (13.43, 0.373), (13.762, 0.386), (13.828, 0.41), (13.96, 0.386), (14.093, 0.367),
            (14.424, 0.367), (14.755, 0.373), (14.802, 0.50), (14.855, 0.38), (14.954, 0.367),
            (15.417, 0.363), (16.08, 0.358), (17.073, 0.358), (17.205, 0.40), (17.238, 0.51),
            (17.305, 0.40), (17.404, 0.418)]
wc_in_06 = [(0.66, 0.245), (0.68, 0.40), (0.96, 0.40), (1.29, 0.41), (1.42, 0.43), (1.48, 0.46),
            (1.55, 0.45), (1.62, 0.425), (1.94, 0.42), (2.21, 0.43), (2.60, 0.425), (3.26, 0.418),
            (3.91, 0.412), (4.57, 0.405), (5.23, 0.405), (5.75, 0.405), (5.89, 0.425), (6.08, 0.45),
            (6.54, 0.453), (6.87, 0.437), (7.20, 0.425), (7.72, 0.405), (7.92, 0.41), (8.02, 0.457),
            (8.12, 0.45), (8.32, 0.437), (8.38, 0.463), (8.51, 0.444), (8.71, 0.43), (8.81, 0.476), GAP,
            (9.225, 0.43), (9.457, 0.437), (9.523, 0.444), (9.788, 0.437), (10.12, 0.418), (10.45, 0.40),
            (10.782, 0.373), (11.113, 0.335), (11.312, 0.31), (11.411, 0.303), (11.444, 0.31),
            (11.51, 0.41), (11.576, 0.412), (11.775, 0.418), (12.106, 0.425), (12.371, 0.437),
            (12.768, 0.44), (13.033, 0.46), (13.166, 0.444), (13.43, 0.44), (13.762, 0.444),
            (14.093, 0.437), (14.424, 0.437), (14.755, 0.44), (15.086, 0.43), (15.417, 0.427),
            (16.08, 0.422), (16.41, 0.414), (17.073, 0.41), (17.139, 0.437), (17.338, 0.435),
            (17.404, 0.38)]
wc_in_08 = [(0.66, 0.08), (0.67, 0.24), (0.96, 0.235), (1.22, 0.245), (1.27, 0.245), (1.28, 0.50),
            (1.33, 0.495), (1.34, 0.26), (1.42, 0.26), (1.43, 0.48), (1.61, 0.48), (1.65, 0.30),
            (1.71, 0.265), (1.94, 0.25), (2.27, 0.256), (2.60, 0.25), (3.26, 0.248), (3.91, 0.245),
            (4.24, 0.243), (4.57, 0.235), (5.23, 0.235), (5.75, 0.235), (5.89, 0.26), (5.95, 0.28),
            (5.98, 0.475), (6.05, 0.495), (6.28, 0.508), (6.47, 0.50), (6.49, 0.27), (6.51, 0.27),
            (6.52, 0.50), (6.56, 0.50), (6.57, 0.27), (6.59, 0.27), (6.61, 0.49), (6.67, 0.50),
            (6.69, 0.265), (6.80, 0.258), (7.20, 0.248), (7.99, 0.24), (8.00, 0.50), (8.08, 0.50),
            (8.10, 0.26), (8.12, 0.26), (8.13, 0.49), (8.25, 0.50), (8.26, 0.26), (8.29, 0.26),
            (8.30, 0.50), (8.45, 0.50), (8.46, 0.26), (8.68, 0.25), (8.69, 0.50), (8.81, 0.49), GAP,
            (9.225, 0.252), (9.457, 0.258), (9.788, 0.252), (10.12, 0.248), (10.782, 0.242),
            (11.378, 0.233), (11.444, 0.233), (11.46, 0.514), (11.51, 0.278), (11.576, 0.282),
            (11.60, 0.489), (11.63, 0.28), (11.709, 0.258), (12.106, 0.265), (12.371, 0.278),
            (12.404, 0.258), (12.702, 0.271), (12.735, 0.508), (12.855, 0.50), (12.868, 0.265),
            (12.94, 0.265), (12.954, 0.508), (13.07, 0.50), (13.086, 0.27), (13.10, 0.27),
            (13.113, 0.505), (13.25, 0.50), (13.265, 0.271), (13.43, 0.271), (13.762, 0.271),
            (14.093, 0.258), (14.755, 0.258), (14.788, 0.508), (14.821, 0.271), (14.954, 0.258),
            (15.417, 0.252), (16.08, 0.245), (17.007, 0.24), (17.08, 0.242), (17.09, 0.489),
            (17.17, 0.49), (17.19, 0.265), (17.25, 0.27), (17.258, 0.50), (17.28, 0.40),
            (17.291, 0.265), (17.404, 0.265)]

# ---------------- volumetric water content, 堤外 ----------------
wc_out_01 = [(0.655, 0.42), (0.72, 0.434), (0.917, 0.453), (1.245, 0.444), (1.507, 0.44), (1.769, 0.428),
             (1.90, 0.436), (2.162, 0.466), (2.555, 0.462), (3.866, 0.469), (5.177, 0.466), (5.70, 0.47),
             (6.094, 0.475), (6.356, 0.483), (6.618, 0.479), (6.749, 0.475), (7.011, 0.428),
             (7.274, 0.421), (7.536, 0.389), (7.798, 0.377), (7.955, 0.39), (7.981, 0.485),
             (8.191, 0.466), (8.453, 0.46), (8.715, 0.428), (8.781, 0.402), GAP,
             (9.213, 0.408), (9.305, 0.46), (9.436, 0.42), (9.567, 0.46), (9.764, 0.42), (9.895, 0.447),
             (10.026, 0.40), (10.42, 0.364), (10.812, 0.338), (11.206, 0.319), (11.337, 0.255),
             (11.468, 0.249), (11.533, 0.434), (11.73, 0.42), (11.927, 0.402), (11.992, 0.428),
             (12.123, 0.415), (12.385, 0.377), (12.648, 0.364), (12.713, 0.485), (12.778, 0.415),
             (12.975, 0.49), (13.04, 0.434), (13.171, 0.453), (13.695, 0.44), (13.826, 0.434),
             (14.35, 0.402), (14.482, 0.408), (14.875, 0.44), (15.662, 0.436), (16.972, 0.434),
             (17.234, 0.445), (17.365, 0.453)]
wc_out_02 = [(0.655, 0.30), (0.66, 0.39), (0.852, 0.402), (0.983, 0.447), (1.245, 0.447), (1.507, 0.415),
             (1.769, 0.402), (1.90, 0.415), (2.162, 0.449), (2.293, 0.44), (2.555, 0.44), (3.866, 0.44),
             (5.177, 0.428), (5.70, 0.428), (6.225, 0.44), (6.356, 0.479), (6.487, 0.46), (6.749, 0.47),
             (7.011, 0.408), (7.536, 0.383), (7.798, 0.351), (7.955, 0.338), (7.981, 0.46),
             (8.322, 0.447), (8.584, 0.408), (8.781, 0.383), GAP,
             (9.213, 0.383), (9.305, 0.421), (9.436, 0.364), (9.567, 0.415), (9.764, 0.383),
             (9.895, 0.408), (10.026, 0.37), (10.42, 0.345), (10.812, 0.313), (11.206, 0.287),
             (11.402, 0.249), (11.468, 0.252), (11.533, 0.466), (11.599, 0.396), (11.861, 0.383),
             (12.123, 0.364), (12.385, 0.351), (12.648, 0.351), (12.713, 0.498), (12.778, 0.383),
             (12.975, 0.50), (13.04, 0.402), (13.171, 0.383), (13.695, 0.383), (13.826, 0.377),
             (14.35, 0.36), (14.875, 0.389), (15.662, 0.389), (16.972, 0.393), (17.234, 0.47),
             (17.30, 0.415), (17.365, 0.41)]
wc_out_04 = [(0.655, 0.255), (0.66, 0.306), (0.983, 0.313), (1.245, 0.351), (1.507, 0.325), (1.90, 0.319),
             (2.097, 0.345), (2.293, 0.313), (2.555, 0.309), (3.21, 0.304), (3.866, 0.296), (4.521, 0.287),
             (5.177, 0.29), (5.70, 0.294), (5.963, 0.304), (6.094, 0.383), (6.16, 0.491), (6.225, 0.40),
             (6.356, 0.332), (6.487, 0.30), (7.143, 0.304), (7.798, 0.287), (7.955, 0.281),
             (7.994, 0.345), (8.191, 0.313), (8.584, 0.30), (8.781, 0.30), GAP,
             (9.213, 0.30), (9.764, 0.294), (10.42, 0.274), (11.075, 0.249), (11.468, 0.223),
             (11.533, 0.294), (12.385, 0.281), (12.713, 0.294), (13.04, 0.296), (13.695, 0.294),
             (14.35, 0.304), (14.875, 0.294), (15.662, 0.294), (16.972, 0.291), (17.30, 0.30),
             (17.365, 0.313)]
wc_out_06 = [(0.655, 0.204), (0.66, 0.30), (0.983, 0.30), (1.245, 0.357), (1.507, 0.332), (1.90, 0.325),
             (2.097, 0.351), (2.293, 0.338), (2.555, 0.336), (3.866, 0.336), (5.177, 0.328), (5.70, 0.332),
             (5.963, 0.338), (6.094, 0.408), (6.225, 0.485), (6.356, 0.383), (6.487, 0.364),
             (7.143, 0.338), (7.798, 0.306), (7.955, 0.294), (7.994, 0.37), (8.191, 0.351),
             (8.453, 0.325), (8.715, 0.313), (8.781, 0.309), GAP,
             (9.213, 0.309), (9.764, 0.30), (10.42, 0.281), (11.075, 0.255), (11.468, 0.22),
             (11.533, 0.319), (11.73, 0.313), (12.385, 0.30), (12.713, 0.305), (12.975, 0.335),
             (13.04, 0.325), (13.695, 0.306), (14.35, 0.325), (14.744, 0.313), (14.81, 0.364),
             (14.875, 0.322), (15.662, 0.304), (16.317, 0.313), (16.972, 0.319), (17.234, 0.357),
             (17.365, 0.342)]
wc_out_08 = [(0.655, 0.064), (0.66, 0.147), (0.983, 0.153), (1.245, 0.198), (1.507, 0.185), (1.90, 0.166),
             (2.097, 0.192), (2.293, 0.172), (2.555, 0.169), (3.866, 0.163), (5.177, 0.162), (5.70, 0.166),
             (5.963, 0.185), (6.068, 0.23), (6.12, 0.383), (6.16, 0.491), (6.225, 0.30), (6.29, 0.49),
             (6.356, 0.332), (6.487, 0.274), (6.749, 0.262), (7.143, 0.249), (7.798, 0.223),
             (7.955, 0.204), (7.981, 0.498), (8.06, 0.332), (8.191, 0.30), (8.453, 0.30), (8.70, 0.30),
             (8.715, 0.50), (8.781, 0.32), GAP,
             (9.213, 0.268), (9.764, 0.255), (10.42, 0.243), (11.075, 0.223), (11.468, 0.207),
             (11.533, 0.281), (11.73, 0.275), (12.385, 0.268), (12.713, 0.27), (12.752, 0.485),
             (12.778, 0.28), (12.975, 0.49), (13.04, 0.27), (13.695, 0.281), (14.35, 0.255),
             (14.744, 0.24), (14.81, 0.36), (14.875, 0.262), (15.662, 0.236), (16.972, 0.232),
             (17.234, 0.242), (17.30, 0.27), (17.365, 0.262)]

# ------------------------------------------------------------------
# Figure geometry and styling
# ------------------------------------------------------------------
W, H = 1255, 1461
FONT = "Arial, 'Liberation Sans', 'Noto Sans CJK JP', sans-serif"
PLOT_L, PLOT_R = 82, 1182
PANELS = [(56, 213), (263, 420), (465, 621), (659, 817), (854, 1011), (1056, 1212), (1250, 1407)]

C_BLACK, C_RED, C_BLUE, C_GREEN, C_ORANGE = "#000000", "#ff0000", "#1e90ff", "#008000", "#ff8c00"
C_DEEP = "#0000ff"
C_CYAN = "#00ffff"
STAGE_STYLE = {"計画高水位": ("#ff3030", "solid"), "氾濫危険水位": ("#ffb0b0", "dot"),
               "避難判断水位": ("#ff9900", "dot"), "氾濫注意水位": ("#f5e800", "dot"),
               "水防団待機水位": ("#009a00", "dot")}


def fx(p):
    return p / W


def fy(p):
    return 1 - p / H


def unzip(pairs):
    return [p[0] for p in pairs], [p[1] for p in pairs]


fig = go.Figure()


def add_line(pairs, n, color, width=1.5, dash=None, yaxis=None):
    xs, ys = unzip(pairs)
    sfx = "" if n == 1 else str(n)
    fig.add_trace(go.Scatter(x=xs, y=ys, mode="lines", xaxis="x" + sfx, yaxis=yaxis or ("y" + sfx),
                             line=dict(color=color, width=width, dash=dash), connectgaps=False,
                             hoverinfo="skip", showlegend=False))


def add_band(ts, hi, lo, n, color):
    sfx = "" if n == 1 else str(n)
    fig.add_trace(go.Scatter(x=ts + ts[::-1], y=hi + lo[::-1], mode="lines", fill="toself",
                             fillcolor=color, line=dict(color=color, width=1),
                             xaxis="x" + sfx, yaxis="y" + sfx, hoverinfo="skip", showlegend=False))


# ---- panel 1: rainfall ----
dt, dv = unzip(rain_daily)
ht, hv = unzip(rain_hourly)
fig.add_trace(go.Bar(x=dt, y=dv, width=0.04, marker=dict(color=C_CYAN, line=dict(width=0)),
                     xaxis="x", yaxis="y", hoverinfo="skip", showlegend=False))
fig.add_trace(go.Bar(x=ht, y=hv, width=0.04, marker=dict(color=C_DEEP, line=dict(width=0)),
                     xaxis="x", yaxis="y", hoverinfo="skip", showlegend=False))
add_line(rain_record, 1, C_DEEP, width=2.5)

# ---- panel 2: river stage ----
add_line([(0, crest_height), (18, crest_height)], 2, "#8b4a12", width=3)
for name, lvl in stage_refs:
    col, dsh = STAGE_STYLE[name]
    add_line([(0, lvl), (18, lvl)], 2, col, width=1.5, dash=dsh)
add_line(river_level, 2, C_BLACK, width=1.8)

# ---- panel 3: embankment water level ----
add_band(wl_t, wl_in_hi, wl_in_lo, 3, C_RED)
add_band(wl2_t, wl2_in_hi, wl2_in_lo, 3, C_RED)
sx, sy = [], []
for t, v in wl_in_peaks:
    sx += [t - 0.012, t, t + 0.012, None]
    sy += [0.0, v, 0.0, None]
fig.add_trace(go.Scatter(x=sx, y=sy, mode="lines", xaxis="x3", yaxis="y3",
                         line=dict(color=C_RED, width=1.5), hoverinfo="skip", showlegend=False))
add_band(wl_t, wl_out_hi, wl_out_lo, 3, C_DEEP)
add_band(wl2_t, wl2_out_hi, wl2_out_lo, 3, C_DEEP)

# ---- panels 4/5: soil temperature and frost depth ----
for n, series, frost, fy_axis in ((4, (ts_in_000, ts_in_020, ts_in_060, ts_in_100), frost_in, "y8"),
                                  (5, (ts_out_000, ts_out_020, ts_out_060, ts_out_100), frost_out, "y9")):
    add_line([(0, 0), (18, 0)], n, C_BLACK, width=2, dash="13px,8px")
    for pairs, col, w in zip(series, (C_BLACK, C_RED, C_BLUE, C_GREEN), (1.8, 1.8, 1.5, 1.5)):
        add_line(pairs, n, col, width=w)
    add_line(frost, n, C_DEEP, width=1.4, yaxis=fy_axis)

# ---- panels 6/7: volumetric water content ----
for n, series in ((6, (wc_in_01, wc_in_02, wc_in_04, wc_in_06, wc_in_08)),
                  (7, (wc_out_01, wc_out_02, wc_out_04, wc_out_06, wc_out_08))):
    for pairs, col in zip(series, (C_BLACK, C_RED, C_BLUE, C_GREEN, C_ORANGE)):
        add_line(pairs, n, col, width=1.7)

# ------------------------------------------------------------------
# Axes
# ------------------------------------------------------------------
layout = dict(width=W, height=H, margin=dict(l=0, r=0, t=0, b=0), paper_bgcolor="white",
              plot_bgcolor="white", showlegend=False, barmode="overlay",
              font=dict(family=FONT, size=20, color="black"))

yspecs = [dict(range=[0, 50], dtick=10, minor=5), dict(range=[4, 16], dtick=4, minor=2),
          dict(range=[-0.1, 0.6], dtick=0.2, minor=0.1, fmt=".1f"), dict(range=[-10, 30], dtick=10, minor=5),
          dict(range=[-10, 30], dtick=10, minor=5), dict(range=[0, 0.6], dtick=0.2, minor=0.1),
          dict(range=[0, 0.6], dtick=0.2, minor=0.1)]

tick_common = dict(ticks="inside", tickwidth=1.2, tickcolor="black", showline=True, linewidth=1.5,
                   linecolor="black", zeroline=False, automargin=False, fixedrange=True)

for i, ((top, bot), spec) in enumerate(zip(PANELS, yspecs), start=1):
    sfx = "" if i == 1 else str(i)
    layout["xaxis" + sfx] = dict(domain=[fx(PLOT_L), fx(PLOT_R)], range=[0, 18], anchor="y" + sfx,
                                 tickmode="linear", tick0=0, dtick=1, ticklen=7, showticklabels=False,
                                 showgrid=True, griddash="dash", gridcolor="#b8b8b8", gridwidth=1,
                                 mirror="ticks", **tick_common)
    layout["yaxis" + sfx] = dict(domain=[fy(bot), fy(top)], anchor="x" + sfx, range=spec["range"],
                                 tickmode="linear", tick0=0, dtick=spec["dtick"],
                                 tickformat=spec.get("fmt", ""), ticklen=8,
                                 minor=dict(tick0=0, dtick=spec["minor"], ticks="inside", ticklen=4,
                                            tickwidth=1.2, tickcolor="black", showgrid=False),
                                 mirror=(True if i in (4, 5) else "ticks"), showgrid=False,
                                 tickfont=dict(size=20), **tick_common)

for ax_id, base in ((8, 4), (9, 5)):
    layout["yaxis%d" % ax_id] = dict(anchor="x%d" % base, overlaying="y%d" % base, side="right",
                                     range=[0.8, 0], tickmode="linear", tick0=0, dtick=0.2, ticklen=8,
                                     minor=dict(tick0=0, dtick=0.1, ticks="inside", ticklen=4,
                                                tickwidth=1.2, tickcolor="black", showgrid=False),
                                     showgrid=False, tickfont=dict(size=20), **tick_common)

fig.update_layout(**layout)

# ------------------------------------------------------------------
# Month / year labels
# ------------------------------------------------------------------
for i, m in enumerate(MONTHS):
    for xref, ypx in (("x", 42), ("x7", 1425)):
        fig.add_annotation(x=i + 0.5, y=fy(ypx), xref=xref, yref="paper", text=m, showarrow=False,
                           xanchor="center", yanchor="middle", font=dict(family=FONT, size=19))
for i, yr in YEARS:
    for xref, ypx in (("x", 17), ("x7", 1450)):
        fig.add_annotation(x=i + 0.5, y=fy(ypx), xref=xref, yref="paper", text=yr, showarrow=False,
                           xanchor="center", yanchor="middle", font=dict(family=FONT, size=19))


def label(text, xpx, ypx, size=15, xanchor="left", angle=0):
    fig.add_annotation(x=fx(xpx), y=fy(ypx), xref="paper", yref="paper", text=text, showarrow=False,
                       xanchor=xanchor, yanchor="middle", textangle=angle,
                       font=dict(family=FONT, size=size, color="black"))


def key_line(x0, x1, ypx, color, dash="solid", width=2):
    fig.add_shape(type="line", xref="paper", yref="paper", x0=fx(x0), x1=fx(x1), y0=fy(ypx), y1=fy(ypx),
                  line=dict(color=color, width=width, dash=dash))


def double_arrow(x0, x1, ypx):
    fig.add_annotation(x=fx(x1), y=fy(ypx), xref="paper", yref="paper", ax=x0 - x1, ay=0,
                       axref="pixel", ayref="pixel", text="", showarrow=True, arrowhead=2,
                       arrowsize=1.1, arrowwidth=1.4, arrowside="end+start", arrowcolor="black")


# axis titles
label("観測雨量", 25, 134, size=22, xanchor="center", angle=-90)
label("河川水位, <i>H</i><sub>wR</sub> (m)", 25, 338, size=22, xanchor="center", angle=-90)
label("堤体水位, <i>H</i><sub>wL</sub> (m)", 25, 541, size=22, xanchor="center", angle=-90)
label("土中温度, <i>T</i><sub>s</sub> (°C)", 25, 836, size=22, xanchor="center", angle=-90)
label("凍結深さ, <i>z</i><sub>f</sub> (m)", 1237, 838, size=22, xanchor="center", angle=90)
label("体積含水率, <i>θ</i> (m<sup>3</sup>/m<sup>3</sup>)", 25, 1218, size=22, xanchor="center", angle=-90)

# panel 1 key
fig.add_shape(type="rect", xref="paper", yref="paper", x0=fx(84), x1=fx(322), y0=fy(150), y1=fy(58),
              fillcolor="white", line=dict(width=0), layer="between")
label("上川沿観測所 (KP10.9)", 100, 80, size=16)
key_line(114, 171, 105, C_DEEP, width=2.5)
label(": 時間雨量(mm/h)", 174, 105, size=16)
key_line(114, 171, 130, C_CYAN, width=2.5)
label(": 日雨量(mm/day)", 174, 130, size=16)

# panel 2 key and notes
key_pos = [(88, 120, 122), (277, 309, 312), (482, 514, 517), (692, 720, 723), (902, 931, 935)]
for (name, lvl), (a, b, tx) in zip(stage_refs, key_pos):
    col, dsh = STAGE_STYLE[name]
    key_line(a, b, 251, col, dash=dsh, width=1.5)
    label(": %s(%sm)" % (name, lvl), tx, 251, size=15)
fig.add_shape(type="line", xref="paper", yref="paper", x0=fx(95), x1=fx(106), y0=fy(294), y1=fy(294),
              line=dict(color="black", width=1.2))
fig.add_annotation(x=fx(95), y=fy(284), xref="paper", yref="paper", ax=0, ay=10, text="",
                   showarrow=True, arrowhead=2, arrowsize=1, arrowwidth=1.2, arrowcolor="black")
label("堤体天端高さ(%.1fm)" % crest_height, 109, 296, size=15)
label("太茶苗観測所 (KP18.9)", 87, 403, size=16)

# panel 3 key and notes
key_line(101, 156, 488, C_RED)
label(": 堤内", 159, 488, size=15)
key_line(234, 288, 488, C_DEEP)
label(": 堤外", 291, 488, size=15)
double_arrow(968, 1112, 590)
label("データ欠測", 1038, 578, size=15, xanchor="center")

# panels 4/5 notes and key
label("堤内", 95, 676, size=15)
label("堤外", 95, 871, size=15)
fig.add_annotation(x=fx(292), y=fy(688), xref="paper", yref="paper", ax=-32, ay=40, text="凍結深さ",
                   showarrow=True, arrowhead=2, arrowsize=1, arrowwidth=1.2, arrowcolor="black",
                   font=dict(family=FONT, size=16, color="black"))
double_arrow(1116, 1145, 714)
double_arrow(1116, 1145, 772)
label("データ<br>欠測", 1136, 743, size=15, xanchor="center")
double_arrow(1041, 1101, 961)
label("データ欠測", 1072, 943, size=15, xanchor="center")
temp_keys = [(100, 157, 161, C_BLACK, "0.0"), (284, 340, 343, C_RED, "0.2"),
             (480, 534, 538, C_BLUE, "0.6"), (672, 728, 732, C_GREEN, "1.0")]
for a, b, tx, col, d in temp_keys:
    key_line(a, b, 833, col, width=1.5)
    label(": G.L.−%sm" % d, tx, 833, size=16)

# panels 6/7 notes and key
label("堤内", 95, 1072, size=15)
label("堤外", 95, 1267, size=15)
double_arrow(617, 646, 1153)
label("データ欠測", 629, 1169, size=15, xanchor="center")
double_arrow(617, 647, 1348)
label("データ欠測", 629, 1365, size=15, xanchor="center")
wc_keys = [(100, 157, 161, C_BLACK, "0.1"), (284, 340, 343, C_RED, "0.2"), (480, 534, 538, C_BLUE, "0.4"),
           (672, 728, 732, C_GREEN, "0.6"), (872, 927, 931, C_ORANGE, "0.8")]
for a, b, tx, col, d in wc_keys:
    key_line(a, b, 1229, col, width=1.5)
    label(": G.L.−%sm" % d, tx, 1229, size=16)

fig.write_html("out.html", include_plotlyjs=True, config={"displayModeBar": False})
